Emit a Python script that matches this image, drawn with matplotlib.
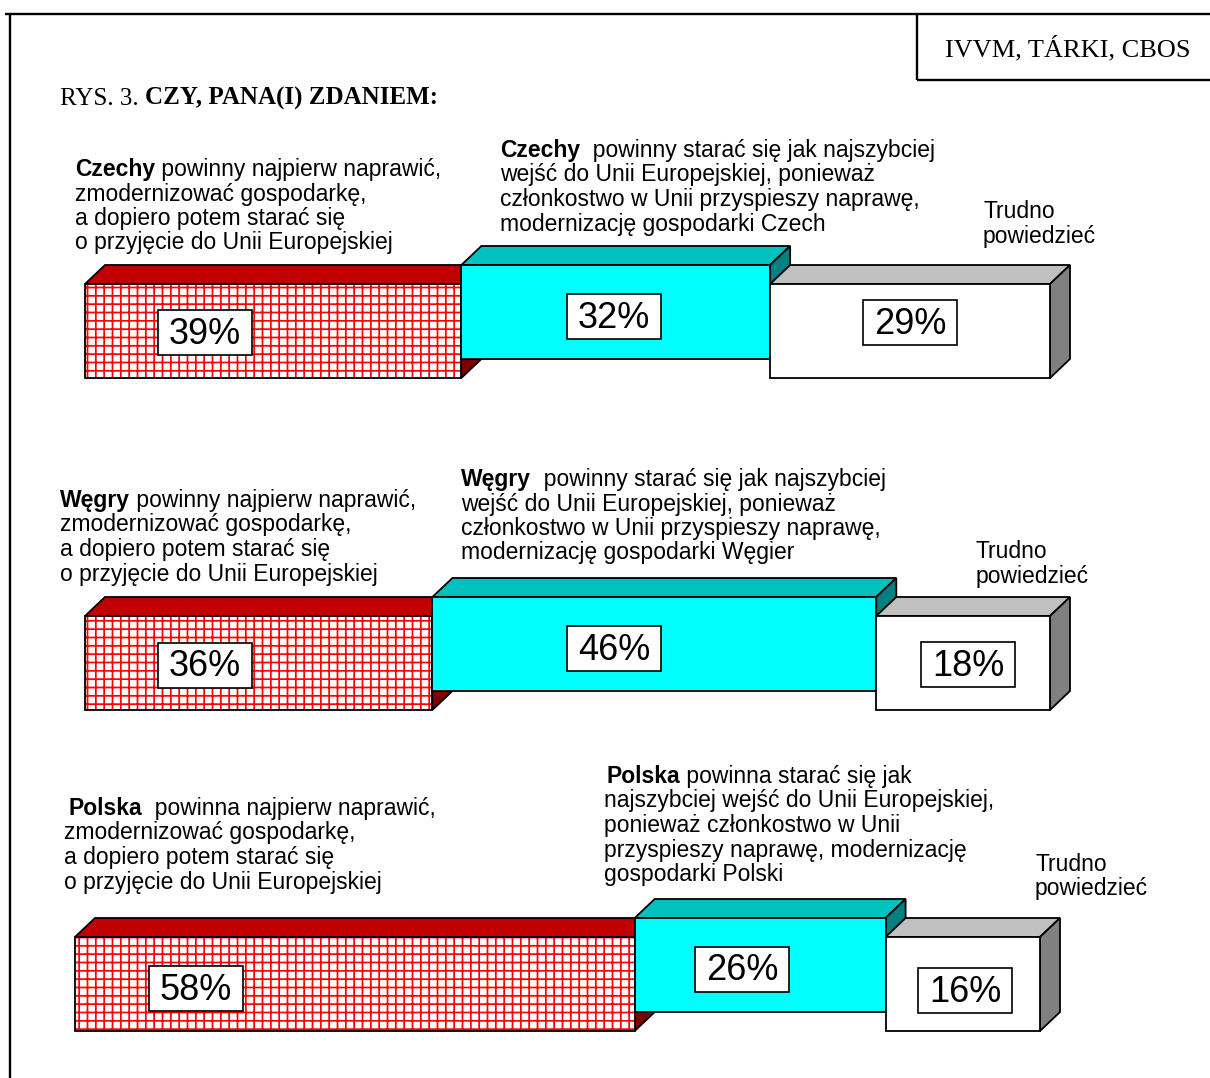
import matplotlib
matplotlib.use("Agg")
import matplotlib.pyplot as plt
from matplotlib.patches import Polygon, Rectangle

# ---------------- data ----------------
countries = ["Czechy", "Węgry", "Polska"]
first_fix = [39, 36, 58]        # najpierw naprawić gospodarkę
join_asap = [32, 46, 26]        # jak najszybciej wejść do UE
hard_to_say = [29, 18, 16]      # trudno powiedzieć

left_texts = [
    ["Czechy", " powinny najpierw naprawić,", "zmodernizować gospodarkę,",
     "a dopiero potem starać się", "o przyjęcie do Unii Europejskiej"],
    ["Węgry", " powinny najpierw naprawić,", "zmodernizować gospodarkę,",
     "a dopiero potem starać się", "o przyjęcie do Unii Europejskiej"],
    ["Polska", "  powinna najpierw naprawić,", "zmodernizować gospodarkę,",
     "a dopiero potem starać się", "o przyjęcie do Unii Europejskiej"],
]
mid_texts = [
    ["Czechy", "  powinny starać się jak najszybciej",
     "wejść do Unii Europejskiej, ponieważ",
     "członkostwo w Unii przyspieszy naprawę,",
     "modernizację gospodarki Czech"],
    ["Węgry", "  powinny starać się jak najszybciej",
     "wejść do Unii Europejskiej, ponieważ",
     "członkostwo w Unii przyspieszy naprawę,",
     "modernizację gospodarki Węgier"],
    ["Polska", " powinna starać się jak",
     "najszybciej wejść do Unii Europejskiej,",
     "ponieważ członkostwo w Unii",
     "przyspieszy naprawę, modernizację",
     "gospodarki Polski"],
]
hard_text = ["Trudno", "powiedzieć"]
title_regular = "RYS. 3. "
title_bold = "CZY, PANA(I) ZDANIEM:"
source_text = "IVVM, TÁRKI, CBOS"

# ---------------- layout ----------------
W, H = 1210, 1078
plt.rcParams["hatch.linewidth"] = 1.25
fig = plt.figure(figsize=(W / 100, H / 100), dpi=100)
ax = fig.add_axes([0, 0, 1, 1])
ax.set_xlim(0, W)
ax.set_ylim(H, 0)
ax.axis("off")

SANS = "Liberation Sans"
SERIF = "Liberation Serif"
PX = 9.65           # pixels per percent
DX, DY = 20, 19     # 3D depth
BH = 94             # bar front height

row_x0 = [85, 85, 75]
row_ytop = [284, 616, 937]   # top of front face for red/white blocks

colors = {
    "red": dict(front="white", top="#C00000", side="#800000"),
    "cyan": dict(front="#00FFFF", top="#00C0C0", side="#008080"),
    "white": dict(front="white", top="#C0C0C0", side="#808080"),
}


def block(x0, x1, ytop, style, z, hatch=False):
    c = colors[style]
    ybot = ytop + BH
    lw = 1.3
    top = Polygon([(x0, ytop), (x0 + DX, ytop - DY), (x1 + DX, ytop - DY), (x1, ytop)],
                  closed=True, facecolor=c["top"], edgecolor="black", lw=lw, zorder=z)
    side = Polygon([(x1, ytop), (x1 + DX, ytop - DY), (x1 + DX, ybot - DY), (x1, ybot)],
                   closed=True, facecolor=c["side"], edgecolor="black", lw=lw, zorder=z)
    ax.add_patch(top)
    ax.add_patch(side)
    if hatch:
        ax.add_patch(Rectangle((x0, ytop), x1 - x0, BH, facecolor="white",
                               edgecolor="#FF0000", hatch="++", lw=0, zorder=z + 0.1))
        ax.add_patch(Rectangle((x0, ytop), x1 - x0, BH, fill=False,
                               edgecolor="black", lw=lw, zorder=z + 0.2))
    else:
        ax.add_patch(Rectangle((x0, ytop), x1 - x0, BH, facecolor=c["front"],
                               edgecolor="black", lw=lw, zorder=z + 0.1))


def label_box(cx, cy, txt, z):
    bw, bh = 94, 45
    ax.add_patch(Rectangle((cx - bw / 2, cy - bh / 2), bw, bh, facecolor="white",
                           edgecolor="black", lw=1.2, zorder=z))
    ax.text(cx, cy + 2, txt, ha="center", va="center", fontsize=26,
            family=SANS, zorder=z + 0.1)


label_pos = [
    [(205, 332), (614, 316), (910, 322)],
    [(205, 665), (614, 648), (968, 664)],
    [(196, 988), (742, 969), (965, 990)],
]

for i in range(3):
    x0 = row_x0[i]
    xa = x0 + first_fix[i] * PX
    xb = xa + join_asap[i] * PX
    xc = xb + hard_to_say[i] * PX
    yt = row_ytop[i]
    block(x0, xa, yt, "red", 2, hatch=True)
    block(xa, xb, yt - DY, "cyan", 3)
    block(xb, xc, yt, "white", 4)
    vals = [first_fix[i], join_asap[i], hard_to_say[i]]
    for (cx, cy), v in zip(label_pos[i], vals):
        label_box(cx, cy, f"{v}%", 6)

# ---------------- texts ----------------
fig.canvas.draw()
renderer = fig.canvas.get_renderer()
FS = 16.5


def text_block(x, y_first, lines, spacing=24.5, first_x=None):
    bold, rest = lines[0], lines[1]
    fx = x if first_x is None else first_x
    t = ax.text(fx, y_first, bold, fontsize=FS, family=SANS, weight="bold",
                va="baseline", ha="left")
    bb = t.get_window_extent(renderer)
    wpx = bb.width
    ax.text(fx + wpx, y_first, rest, fontsize=FS, family=SANS, va="baseline", ha="left")
    for k, ln in enumerate(lines[2:]):
        ax.text(x, y_first + spacing * (k + 1), ln, fontsize=FS, family=SANS,
                va="baseline", ha="left")


def plain_block(x, y_first, lines, spacing=24.5):
    for k, ln in enumerate(lines):
        ax.text(x, y_first + spacing * k, ln, fontsize=FS, family=SANS,
                va="baseline", ha="left")


text_block(75, 176, left_texts[0])
text_block(500, 157, mid_texts[0])
plain_block(983, 218, hard_text)

text_block(60, 507, left_texts[1])
text_block(461, 486, mid_texts[1])
plain_block(976, 558, hard_text)

text_block(64, 815, left_texts[2], first_x=68)
text_block(604, 783, mid_texts[2], first_x=606)
plain_block(1035, 871, hard_text)

# title
t = ax.text(60, 105, title_regular, fontsize=18, family=SERIF, va="baseline", ha="left")
bb = t.get_window_extent(renderer)
ax.text(60 + bb.width, 105, title_bold, fontsize=18, family=SERIF, weight="bold",
        va="baseline", ha="left")

# source box
ax.text(945, 56, source_text, fontsize=19, family=SERIF, va="baseline", ha="left")

# frame lines
ax.plot([5, W], [14, 14], color="black", lw=1.7, solid_capstyle="butt")
ax.plot([10, 10], [14, H], color="black", lw=1.7, solid_capstyle="butt")
ax.plot([917, 917], [14, 80], color="black", lw=1.7, solid_capstyle="butt")
ax.plot([917, W], [80, 80], color="black", lw=1.7, solid_capstyle="butt")

fig.savefig("out.png", dpi=100)
